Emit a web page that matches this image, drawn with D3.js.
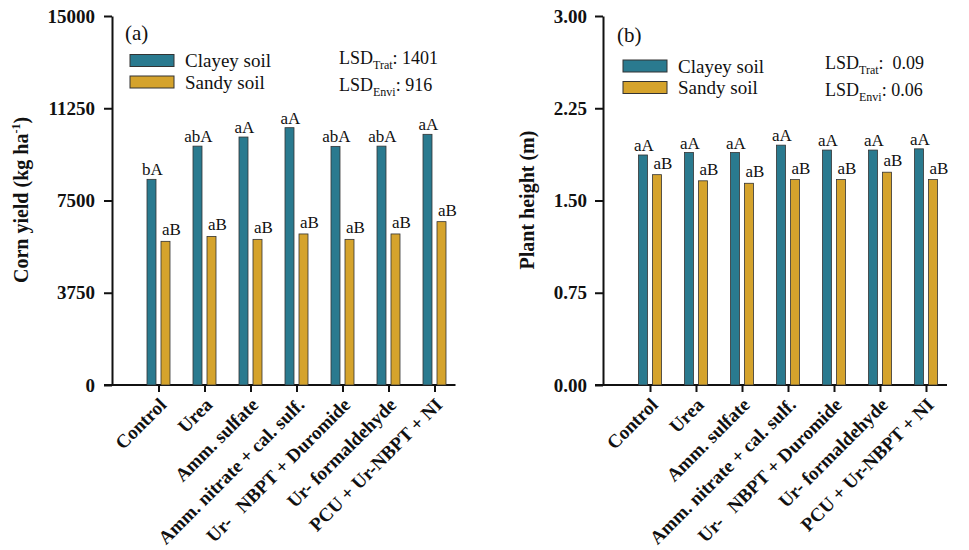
<!DOCTYPE html>
<html><head><meta charset="utf-8">
<script src="https://cdn.jsdelivr.net/npm/d3@7"></script>
<style>
html,body{margin:0;padding:0;background:#fff;}
svg{display:block;}
text{font-family:"Liberation Serif","Times New Roman",serif;fill:#111;}
</style></head>
<body>
<script>
const categories = ["Control","Urea","Amm. sulfate","Amm. nitrate + cal. sulf.","Ur- NBPT + Duromide","Ur- formaldehyde","PCU + Ur-NBPT + NI"];
const seriesNames = ["Clayey soil","Sandy soil"];
const yieldClayey = [8360, 9710, 10080, 10460, 9700, 9710, 10190];
const yieldSandy  = [5840, 6040, 5920, 6140, 5920, 6140, 6640];
const yieldLettersClayey = ["bA","abA","aA","aA","abA","abA","aA"];
const yieldLettersSandy  = ["aB","aB","aB","aB","aB","aB","aB"];
const yieldTicks = [0, 3750, 7500, 11250, 15000];
const heightClayey = [1.87, 1.89, 1.89, 1.95, 1.91, 1.91, 1.92];
const heightSandy  = [1.71, 1.66, 1.64, 1.67, 1.67, 1.73, 1.67];
const heightLettersClayey = ["aA","aA","aA","aA","aA","aA","aA"];
const heightLettersSandy  = ["aB","aB","aB","aB","aB","aB","aB"];
const heightTicks = [0, 0.75, 1.50, 2.25, 3.00];

const colors = ["#2a7a8f", "#d5a32c"];
const W = 969, H = 550;
const svg = d3.select("body").append("svg").attr("width", W).attr("height", H);

function panel(o) {
  const g = svg.append("g");
  const x = d3.scalePoint().domain(categories).range([o.x0, o.x0 + 46 * (categories.length - 1)]);
  const y = d3.scaleLinear().domain([0, o.max]).range([385, 16]);
  const bw = 9;

  // y axis
  const ya = g.append("g").attr("transform", `translate(${o.ax},0)`)
    .call(d3.axisLeft(y).tickValues(o.ticks).tickSize(8).tickPadding(o.tp).tickFormat(o.fmt).tickSizeOuter(0));
  ya.select(".domain").attr("stroke", "#111").attr("stroke-width", 2);
  ya.selectAll(".tick line").attr("stroke", "#111").attr("stroke-width", 2);
  ya.selectAll(".tick text").style("font-family", '"Liberation Serif","Times New Roman",serif')
    .style("font-size", "19px").style("font-weight", "bold").attr("fill", "#111");

  // x axis
  const xa = g.append("g").attr("transform", `translate(0,385)`)
    .call(d3.axisBottom(x).tickSize(7).tickFormat(""));
  xa.select(".domain").remove();
  xa.selectAll(".tick line").attr("stroke", "#111").attr("stroke-width", 2);
  g.append("line").attr("x1", o.ax - 8).attr("x2", x(categories[categories.length - 1]) + 21)
    .attr("y1", 385).attr("y2", 385).attr("stroke", "#111").attr("stroke-width", 2);

  // x labels
  g.selectAll(".xl").data(categories).enter().append("text")
    .attr("transform", d => `translate(${x(d) + 9},406) rotate(-45)`)
    .attr("text-anchor", "end").style("font-size", "19px").style("font-weight", "bold")
    .each(function(d) {
      const el = d3.select(this);
      if (d.startsWith("Ur- NBPT")) {
        el.append("tspan").text("Ur-");
        el.append("tspan").attr("dx", 14).text(d.slice(4));
      } else el.text(d);
    });

  // bars
  const offs = [-11.5, 2.5];
  [o.c, o.s].forEach((vals, si) => {
    g.selectAll(".b" + si).data(vals).enter().append("rect")
      .attr("x", (d, i) => x(categories[i]) + offs[si])
      .attr("y", d => y(d)).attr("width", bw).attr("height", d => y(0) - y(d))
      .attr("fill", colors[si]).attr("stroke", "#333").attr("stroke-width", 0.8);
  });
  // letters
  g.selectAll(".lc").data(o.lc).enter().append("text")
    .attr("x", (d, i) => x(categories[i]) + offs[0] + bw / 2 + 1)
    .attr("y", (d, i) => y(o.c[i]) - 4).attr("text-anchor", "middle")
    .style("font-size", "17px").text(d => d);
  g.selectAll(".ls").data(o.ls).enter().append("text")
    .attr("x", (d, i) => x(categories[i]) + offs[1] + bw / 2 + 6)
    .attr("y", (d, i) => y(o.s[i]) - 6).attr("text-anchor", "middle")
    .style("font-size", "17px").text(d => d);

  // y title
  const t = g.append("text").attr("transform", `translate(${o.tx},200) rotate(-90)`)
    .attr("text-anchor", "middle").style("font-size", "20px").style("font-weight", "bold");
  o.title(t);

  // panel letter
  g.append("text").attr("x", o.px).attr("y", o.py).style("font-size", "21px").text(o.letter);

  // legend
  seriesNames.forEach((n, i) => {
    g.append("rect").attr("x", o.lx).attr("y", o.ly + i * 21.5).attr("width", 44).attr("height", 12)
      .attr("fill", colors[i]).attr("stroke", "#333").attr("stroke-width", 1);
    g.append("text").attr("x", o.lx + 55).attr("y", o.ly + i * 21.5 + 12.5).style("font-size", "19px").text(n);
  });

  // LSD
  o.lsd.forEach((v, i) => {
    const tt = g.append("text").attr("x", o.sx).attr("y", o.sy + i * 27.5).style("font-size", "18px")
      .attr("xml:space", "preserve").style("white-space", "pre");
    tt.append("tspan").text("LSD");
    tt.append("tspan").attr("dy", 5).style("font-size", "12px").text(i === 0 ? "Trat" : "Envi");
    tt.append("tspan").attr("dy", -5).text(v);
  });
}

panel({
  x0: 158.5, ax: 112, max: 15000, ticks: yieldTicks, fmt: d3.format("d"), tp: 9,
  c: yieldClayey, s: yieldSandy, lc: yieldLettersClayey, ls: yieldLettersSandy,
  tx: 28, px: 125, py: 40, letter: "(a)", lx: 130, ly: 54.5,
  sx: 339, sy: 63.5, lsd: [": 1401", ": 916"],
  title: t => { t.append("tspan").text("Corn yield (kg ha");
    t.append("tspan").attr("dy", -8).style("font-size", "12px").text("-1");
    t.append("tspan").attr("dy", 8).text(")"); }
});
panel({
  x0: 650, ax: 603, max: 3, ticks: heightTicks, fmt: d3.format(".2f"), tp: 8,
  c: heightClayey, s: heightSandy, lc: heightLettersClayey, ls: heightLettersSandy,
  tx: 534, px: 617, py: 41.5, letter: "(b)", lx: 623, ly: 60,
  sx: 825, sy: 68.5, lsd: [":  0.09", ": 0.06"],
  title: t => { t.text("Plant height (m)"); }
});
</script>
</body></html>
